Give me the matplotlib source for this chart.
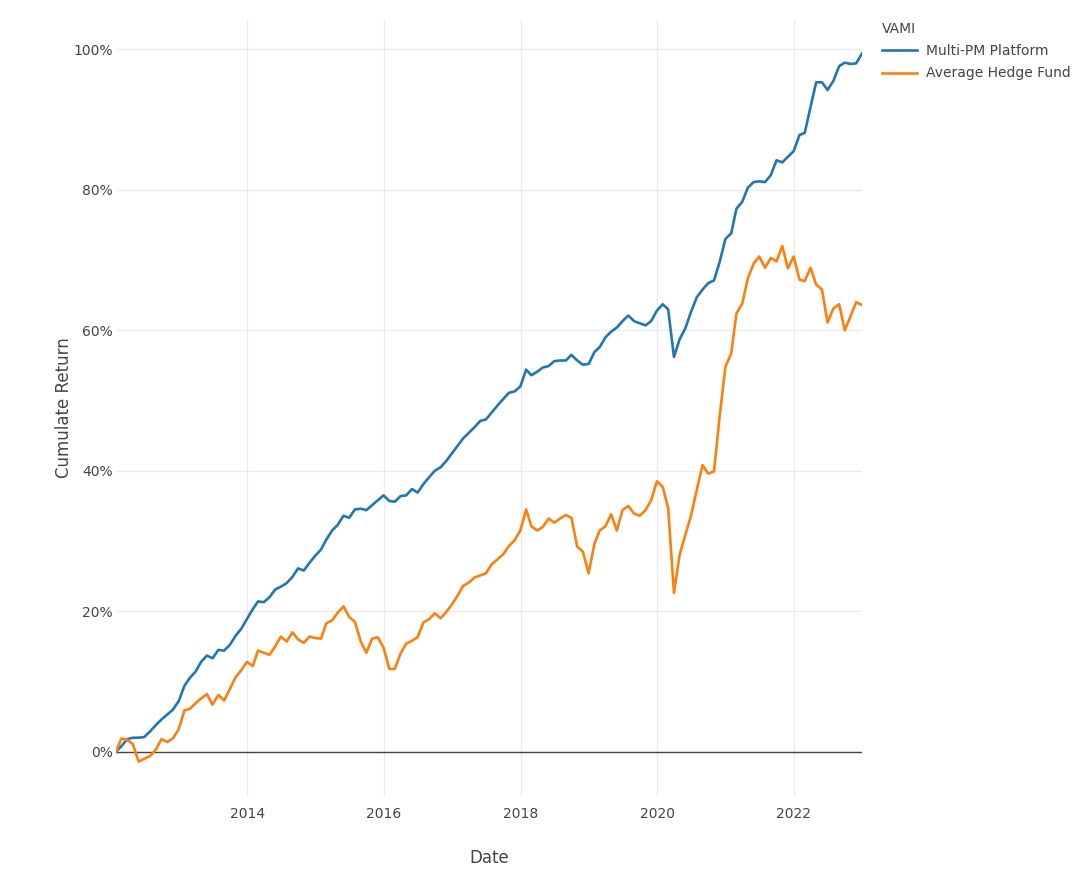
import matplotlib
matplotlib.use("Agg")
import matplotlib.pyplot as plt
import matplotlib.dates as mdates
from matplotlib.ticker import FuncFormatter, MultipleLocator
import pandas as pd

# monthly month-end dates, Jan 2012 .. Dec 2022
start_date = "2012-01-31"
n_months = 132

# cumulative return in percent
multi_pm = [
    0.0, 0.8, 1.8, 2.0, 2.0, 2.1, 2.9, 3.8, 4.6, 5.3, 6.0, 7.2,
    9.4, 10.5, 11.4, 12.8, 13.7, 13.3, 14.5, 14.4, 15.2, 16.5, 17.5, 18.9,
    20.3, 21.4, 21.3, 22.0, 23.1, 23.5, 24.0, 24.9, 26.1, 25.8, 26.9, 27.9,
    28.8, 30.2, 31.5, 32.3, 33.6, 33.3, 34.5, 34.6, 34.4, 35.1, 35.8, 36.5,
    35.7, 35.6, 36.4, 36.5, 37.4, 36.9, 38.1, 39.1, 40.0, 40.5, 41.4, 42.5,
    43.6, 44.6, 45.4, 46.2, 47.1, 47.3, 48.3, 49.3, 50.2, 51.1, 51.3, 52.0,
    54.4, 53.6, 54.1, 54.7, 54.9, 55.6, 55.7, 55.7, 56.5, 55.7, 55.1, 55.2,
    56.9, 57.6, 59.0, 59.8, 60.4, 61.3, 62.1, 61.3, 61.0, 60.7, 61.3, 62.8,
    63.7, 63.0, 56.2, 58.7, 60.3, 62.6, 64.7, 65.8, 66.7, 67.1, 69.7, 73.0,
    73.8, 77.3, 78.3, 80.3, 81.1, 81.2, 81.1, 82.1, 84.2, 83.9, 84.7, 85.5,
    87.8, 88.1, 91.8, 95.3, 95.3, 94.2, 95.5, 97.6, 98.1, 97.9, 98.0, 99.4,
]
avg_hf = [
    0.0, 1.9, 1.7, 1.1, -1.4, -1.0, -0.6, 0.3, 1.8, 1.4, 1.9, 3.2,
    5.9, 6.1, 6.9, 7.6, 8.2, 6.7, 8.1, 7.3, 8.9, 10.6, 11.6, 12.8,
    12.2, 14.4, 14.1, 13.8, 15.0, 16.4, 15.7, 17.0, 16.0, 15.5, 16.4, 16.2,
    16.1, 18.3, 18.7, 19.8, 20.7, 19.2, 18.5, 15.7, 14.1, 16.1, 16.3, 14.8,
    11.8, 11.8, 14.0, 15.4, 15.8, 16.3, 18.4, 18.9, 19.7, 19.0, 19.9, 21.0,
    22.3, 23.6, 24.1, 24.8, 25.1, 25.4, 26.7, 27.4, 28.1, 29.3, 30.1, 31.5,
    34.5, 32.1, 31.5, 32.0, 33.2, 32.6, 33.2, 33.7, 33.3, 29.2, 28.5, 25.4,
    29.6, 31.5, 32.1, 33.8, 31.5, 34.4, 35.0, 33.9, 33.6, 34.4, 35.8, 38.5,
    37.7, 34.7, 22.6, 28.0, 30.9, 33.6, 37.3, 40.8, 39.6, 39.9, 47.7, 54.8,
    56.7, 62.4, 63.8, 67.4, 69.5, 70.5, 68.9, 70.3, 69.8, 72.0, 68.8, 70.5,
    67.2, 67.0, 68.9, 66.5, 65.8, 61.1, 63.1, 63.7, 60.0, 62.0, 64.0, 63.6,
]
series_names = ["Multi-PM Platform", "Average Hedge Fund"]
colors = ["#1f77b4", "#ff7f0e"]

dates = pd.date_range(start_date, periods=n_months, freq="ME")

plt.rcParams["font.family"] = ["DejaVu Sans"]
fig = plt.figure(figsize=(10.87, 8.88), dpi=100)
ax = fig.add_axes([116 / 1087, 1 - 795.6 / 888, (862 - 116) / 1087, (795.6 - 19.5) / 888])

for vals, name, c in zip([multi_pm, avg_hf], series_names, colors):
    ax.plot(dates, vals, color=c, lw=1.9, label=name, solid_joinstyle="round")

ax.set_xlim(dates[0], dates[-1])
ymin = min(min(multi_pm), min(avg_hf))
ymax = max(max(multi_pm), max(avg_hf))
pad = (ymax - ymin) * 0.048
ax.set_ylim(ymin - pad, ymax + pad)

ax.xaxis.set_major_locator(mdates.YearLocator(2))
ax.xaxis.set_major_formatter(mdates.DateFormatter("%Y"))
ax.yaxis.set_major_locator(MultipleLocator(20))
ax.yaxis.set_major_formatter(FuncFormatter(lambda v, p: f"{v:.0f}%"))

ax.grid(True, color="#ebebeb", lw=1)
ax.set_axisbelow(True)
ax.axhline(0, color="#444444", lw=1, zorder=1.5)
for s in ax.spines.values():
    s.set_visible(False)
ax.tick_params(length=0, labelsize=10, colors="#444444")
ax.tick_params(axis="y", pad=2.5)
ax.tick_params(axis="x", pad=8)

ax.set_xlabel("Date", fontsize=12, color="#444444")
ax.set_ylabel("Cumulate Return", fontsize=12, color="#444444")
ax.xaxis.set_label_coords(0.5, -0.069)
ax.yaxis.set_label_coords(-0.058, 0.5)

leg = ax.legend(title="VAMI", loc="upper left", bbox_to_anchor=(1.027, 0.997),
                frameon=False, fontsize=10, title_fontsize=10,
                handlelength=2.5, handletextpad=0.65, labelspacing=0.6,
                alignment="left", borderaxespad=0.0, borderpad=0.0)
for t in leg.get_texts():
    t.set_color("#444444")
leg.get_title().set_color("#444444")

fig.savefig("out.png", dpi=100, facecolor="white")
